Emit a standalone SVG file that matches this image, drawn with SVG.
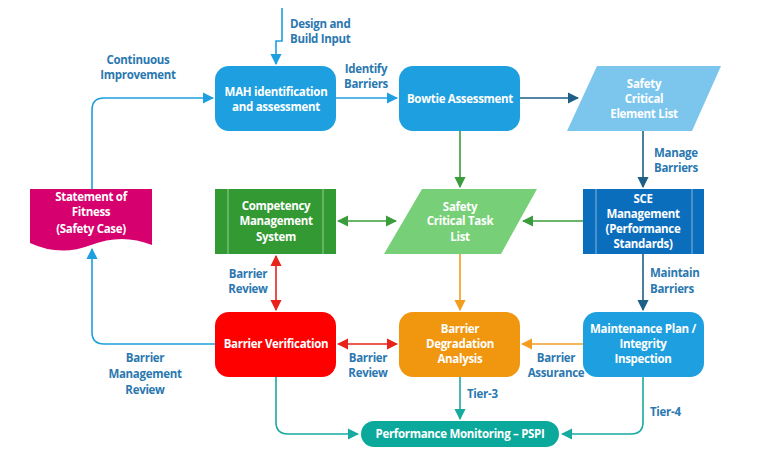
<svg xmlns="http://www.w3.org/2000/svg" width="768" height="460" viewBox="0 0 768 460">
<defs>
<style>
text{font-family:"Open Sans","Noto Sans",sans-serif;font-weight:700;font-size:11.5px;letter-spacing:-0.3px}
.w{fill:#fff;text-anchor:middle}
.l{fill:#2b78b0}
.m{text-anchor:middle}
.c{fill:none;stroke-width:1.6}
</style>
<marker id="ab" viewBox="0 0 10 10" refX="9" refY="5" markerWidth="7" markerHeight="7" orient="auto-start-reverse"><path d="M0,0L10,5L0,10z" fill="#1e9fe0"/></marker>
<marker id="ad" viewBox="0 0 10 10" refX="9" refY="5" markerWidth="7" markerHeight="7" orient="auto-start-reverse"><path d="M0,0L10,5L0,10z" fill="#1d5f86"/></marker>
<marker id="ag" viewBox="0 0 10 10" refX="9" refY="5" markerWidth="7" markerHeight="7" orient="auto-start-reverse"><path d="M0,0L10,5L0,10z" fill="#3a9c3a"/></marker>
<marker id="ar" viewBox="0 0 10 10" refX="9" refY="5" markerWidth="7" markerHeight="7" orient="auto-start-reverse"><path d="M0,0L10,5L0,10z" fill="#e8231b"/></marker>
<marker id="ao" viewBox="0 0 10 10" refX="9" refY="5" markerWidth="7" markerHeight="7" orient="auto-start-reverse"><path d="M0,0L10,5L0,10z" fill="#f39c1e"/></marker>
<marker id="at" viewBox="0 0 10 10" refX="9" refY="5" markerWidth="7" markerHeight="7" orient="auto-start-reverse"><path d="M0,0L10,5L0,10z" fill="#17aaa0"/></marker>
</defs>
<rect width="768" height="460" fill="#fff"/>
<g id="connectors">
<path class="c" stroke="#1e9fe0" d="M282,8V41H276V64" marker-end="url(#ab)"/>
<path class="c" stroke="#1e9fe0" d="M336,98H397" marker-end="url(#ab)"/>
<path class="c" stroke="#1d5f86" d="M520,98H578" marker-end="url(#ad)"/>
<path class="c" stroke="#1d5f86" d="M643,131V187" marker-end="url(#ad)"/>
<path class="c" stroke="#3a9c3a" d="M460,131V187" marker-end="url(#ag)"/>
<path class="c" stroke="#3a9c3a" d="M583,221H523" marker-end="url(#ag)"/>
<path class="c" stroke="#3a9c3a" d="M338,221H396" marker-start="url(#ag)" marker-end="url(#ag)"/>
<path class="c" stroke="#e8231b" d="M276,256V310" marker-start="url(#ar)" marker-end="url(#ar)"/>
<path class="c" stroke="#f39c1e" d="M460,254V310" marker-end="url(#ao)"/>
<path class="c" stroke="#1d5f86" d="M643,254V310" marker-end="url(#ad)"/>
<path class="c" stroke="#f39c1e" d="M583,344H522" marker-end="url(#ao)"/>
<path class="c" stroke="#e8231b" d="M338,344H397" marker-start="url(#ar)" marker-end="url(#ar)"/>
<path class="c" stroke="#1e9fe0" d="M215,344H104Q92,344 92,332V249" marker-end="url(#ab)"/>
<path class="c" stroke="#1e9fe0" d="M92,189V110Q92,98 104,98H213" marker-end="url(#ab)"/>
<path class="c" stroke="#17aaa0" d="M276,377V422Q276,434 288,434H358" marker-end="url(#at)"/>
<path class="c" stroke="#17aaa0" d="M460,377V419" marker-end="url(#at)"/>
<path class="c" stroke="#17aaa0" d="M643,377V422Q643,434 631,434H562" marker-end="url(#at)"/>
</g>
<g id="labels" class="l">
<text x="290" y="28">Design and</text><text x="290" y="43">Build Input</text>
<text class="l m" x="138" y="64">Continuous</text><text class="l m" x="138" y="79">Improvement</text>
<text class="l m" x="366" y="73">Identify</text><text class="l m" x="366" y="88">Barriers</text>
<text x="654" y="157">Manage</text><text x="654" y="172">Barriers</text>
<text x="650" y="277">Maintain</text><text x="650" y="293">Barriers</text>
<text class="l m" x="248" y="278">Barrier</text><text class="l m" x="248" y="293">Review</text>
<text class="l m" x="368" y="362">Barrier</text><text class="l m" x="368" y="377">Review</text>
<text class="l m" x="556" y="362">Barrier</text><text class="l m" x="556" y="377">Assurance</text>
<text class="l m" x="145" y="362">Barrier</text><text class="l m" x="145" y="378">Management</text><text class="l m" x="145" y="394">Review</text>
<text x="467" y="398">Tier-3</text>
<text x="650" y="416">Tier-4</text>
</g>
<g id="mah"><rect x="215" y="66" width="121" height="65" rx="14" fill="#1e9fe0"/><text class="w" x="276" y="96">MAH identification</text><text class="w" x="276" y="111">and assessment</text></g>
<g id="bowtie"><rect x="399" y="66" width="121" height="65" rx="14" fill="#1e9fe0"/><text class="w" x="460" y="103">Bowtie Assessment</text></g>
<g id="scel"><path d="M597,66H721L692,131H567z" fill="#7cc6ee"/><text class="w" x="644" y="88">Safety</text><text class="w" x="644" y="103">Critical</text><text class="w" x="644" y="118">Element List</text></g>
<g id="sof"><path d="M30,189H152V245Q122,233 91,245T30,243z" fill="#d6006e"/><text class="w" x="91" y="201">Statement of</text><text class="w" x="91" y="216">Fitness</text><text class="w" x="91" y="233">(Safety Case)</text></g>
<g id="cms"><rect x="215" y="189" width="121" height="65" fill="#339933"/><path d="M228,189V254M323,189V254" stroke="#fff" stroke-opacity="0.5"/><text class="w" x="276" y="210">Competency</text><text class="w" x="276" y="225">Management</text><text class="w" x="276" y="241">System</text></g>
<g id="sctl"><path d="M422,189H537L501,254H384z" fill="#77d077"/><text class="w" x="460" y="211">Safety</text><text class="w" x="460" y="225">Critical Task</text><text class="w" x="460" y="241">List</text></g>
<g id="scem"><rect x="583" y="189" width="121" height="65" fill="#0a6ebd"/><path d="M596,189V254M692,189V254" stroke="#fff" stroke-opacity="0.5"/><text class="w" x="643" y="203">SCE</text><text class="w" x="643" y="218">Management</text><text class="w" x="643" y="233">(Performance</text><text class="w" x="643" y="248">Standards)</text></g>
<g id="bv"><rect x="215" y="312" width="121" height="65" rx="14" fill="#ff0000"/><text class="w" x="276" y="348">Barrier Verification</text></g>
<g id="bda"><rect x="399" y="312" width="121" height="65" rx="14" fill="#f0960f"/><text class="w" x="460" y="333">Barrier</text><text class="w" x="460" y="348">Degradation</text><text class="w" x="460" y="363">Analysis</text></g>
<g id="mp"><rect x="583" y="312" width="121" height="65" rx="14" fill="#1e9fe0"/><text class="w" x="643" y="333">Maintenance Plan /</text><text class="w" x="643" y="348">Integrity</text><text class="w" x="643" y="363">Inspection</text></g>
<g id="pspi"><rect x="361" y="421" width="198" height="26" rx="13" fill="#0aa99b"/><text class="w" x="460" y="438">Performance Monitoring – PSPI</text></g>
</svg>
